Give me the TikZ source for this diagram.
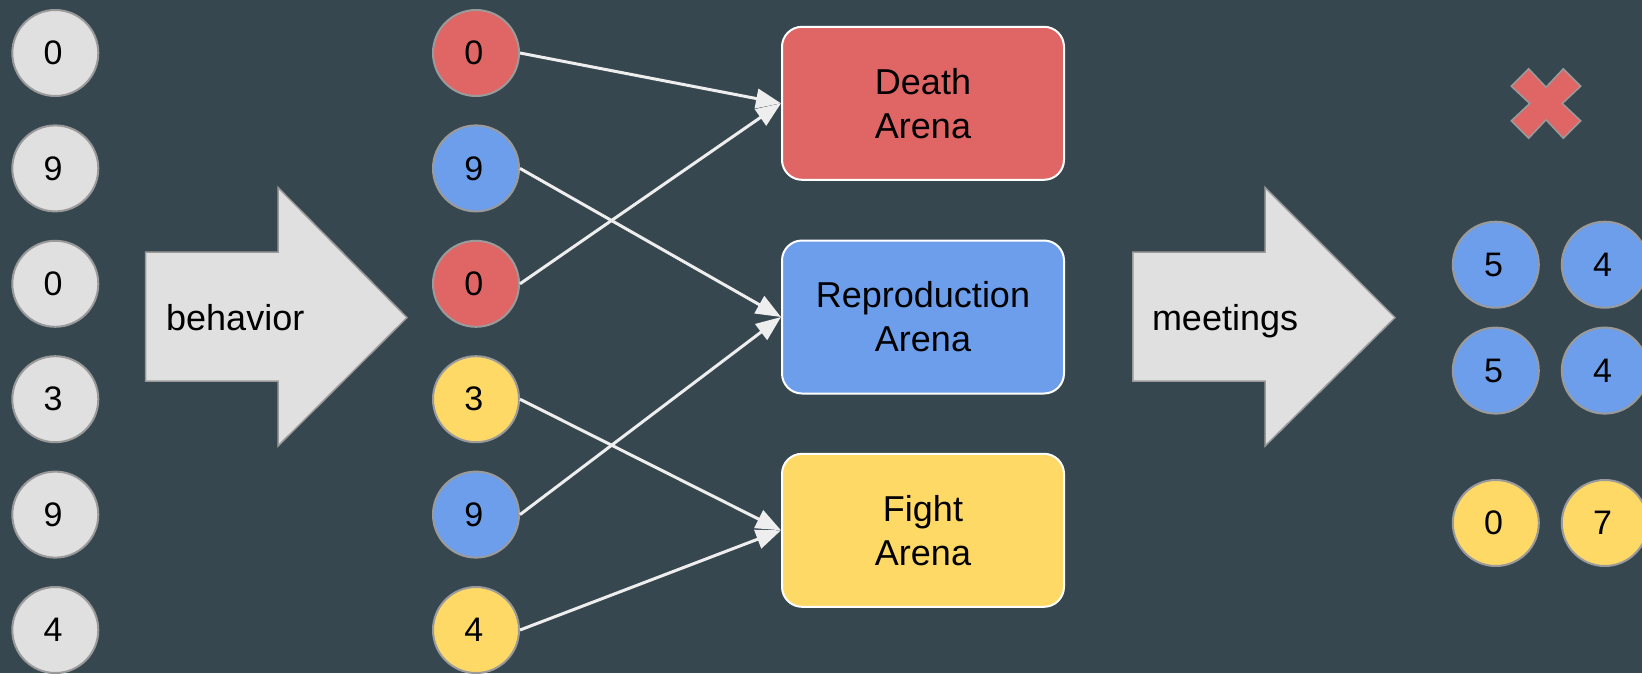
\documentclass[tikz,border=0pt]{standalone}
\usepackage{fontspec}
\setmainfont{Liberation Sans}
\usetikzlibrary{arrows.meta}

\definecolor{slate}{HTML}{37474F}
\definecolor{tokgray}{HTML}{E0E0E0}
\definecolor{rimgray}{HTML}{9A9A9A}
\definecolor{deathred}{HTML}{E06666}
\definecolor{reproblue}{HTML}{6D9EEB}
\definecolor{fightyellow}{HTML}{FFD966}
\definecolor{linkgray}{HTML}{EEEEEE}

% digit set a little left of and below the circle centre
\newcommand{\tokdigit}[1]{\raisebox{-1.7pt}{\kern-4.6pt#1}}

\tikzset{
  token/.style={circle, draw=rimgray, line width=2pt, minimum size=86pt,
    inner sep=0pt, text=black, font=\fontsize{34}{40}\selectfont},
  arena/.style={rectangle, rounded corners=20pt, draw=white, line width=2pt,
    minimum width=282pt, minimum height=153pt, inner sep=0pt, align=center,
    text=black, font=\fontsize{36}{44}\selectfont},
  link/.style={draw=linkgray, line width=3pt,
    -{Triangle[length=25pt,width=19.5pt]}},
  bigarrow/.style={fill=tokgray, draw=rimgray, line width=1.5pt},
  arrowtext/.style={anchor=base west, inner sep=0pt, text=black,
    font=\fontsize{36}{44}\selectfont},
}

\begin{document}
\begin{tikzpicture}[x=1pt, y=-1pt]
  \useasboundingbox (0,0) rectangle (1642,673);
  \clip (0,0) rectangle (1642,673);
  \fill[slate] (0,0) rectangle (1642,673);

  % population before behaviour
  \node[token, fill=tokgray] (p1) at (55.3,53)    {\tokdigit{0}};
  \node[token, fill=tokgray] (p2) at (55.3,168.4) {\tokdigit{9}};
  \node[token, fill=tokgray] (p3) at (55.3,283.8) {\tokdigit{0}};
  \node[token, fill=tokgray] (p4) at (55.3,399.2) {\tokdigit{3}};
  \node[token, fill=tokgray] (p5) at (55.3,514.6) {\tokdigit{9}};
  \node[token, fill=tokgray] (p6) at (55.3,630)   {\tokdigit{4}};

  % behaviour arrow
  \draw[bigarrow] (145.7,252) -- (278,252) -- (278,187.5) -- (407,317.6)
    -- (278,446) -- (278,381) -- (145.7,381) -- cycle;
  \node[arrowtext] (behavior) at (166,330.7) {behavior};

  % individuals coloured by chosen arena
  \node[token, fill=deathred]    (m1) at (476,53)    {\tokdigit{0}};
  \node[token, fill=reproblue]   (m2) at (476,168.4) {\tokdigit{9}};
  \node[token, fill=deathred]    (m3) at (476,283.8) {\tokdigit{0}};
  \node[token, fill=fightyellow] (m4) at (476,399.2) {\tokdigit{3}};
  \node[token, fill=reproblue]   (m5) at (476,514.6) {\tokdigit{9}};
  \node[token, fill=fightyellow] (m6) at (476,630)   {\tokdigit{4}};

  % arenas
  \node[arena, fill=deathred]    (death) at (923,103.3) {Death\\Arena};
  \node[arena, fill=reproblue]   (repro) at (923,317)   {Reproduction\\Arena};
  \node[arena, fill=fightyellow] (fight) at (923,530.3) {Fight\\Arena};

  % assignments
  \draw[link] (m1.east) -- (death.west);
  \draw[link] (m2.east) -- (repro.west);
  \draw[link] (m3.east) -- (death.west);
  \draw[link] (m4.east) -- (fight.west);
  \draw[link] (m5.east) -- (repro.west);
  \draw[link] (m6.east) -- (fight.west);

  % meetings arrow
  \draw[bigarrow] (1132.8,252) -- (1265,252) -- (1265,187.5) -- (1395,317.6)
    -- (1265,446) -- (1265,381) -- (1132.8,381) -- cycle;
  \node[arrowtext] (meetings) at (1151.8,330.5) {meetings};

  % outcome of the death arena
  \draw[fill=deathred, draw=rimgray, line width=1.5pt, shift={(1546,103.5)}]
    (0,-16.3) -- (17.3,-34.7) -- (34.7,-17.3) -- (16.3,0) -- (34.7,17.3)
    -- (17.3,34.7) -- (0,16.3) -- (-17.3,34.7) -- (-34.7,17.3) -- (-16.3,0)
    -- (-34.7,-17.3) -- (-17.3,-34.7) -- cycle;

  % offspring and fight results
  \node[token, fill=reproblue]   (r1) at (1495.8,264.7) {\tokdigit{5}};
  \node[token, fill=reproblue]   (r2) at (1604.8,264.7) {\tokdigit{4}};
  \node[token, fill=reproblue]   (r3) at (1495.8,370.6) {\tokdigit{5}};
  \node[token, fill=reproblue]   (r4) at (1604.8,370.6) {\tokdigit{4}};
  \node[token, fill=fightyellow] (r5) at (1495.8,523)   {\tokdigit{0}};
  \node[token, fill=fightyellow] (r6) at (1604.8,523)   {\tokdigit{7}};
\end{tikzpicture}
\end{document}
